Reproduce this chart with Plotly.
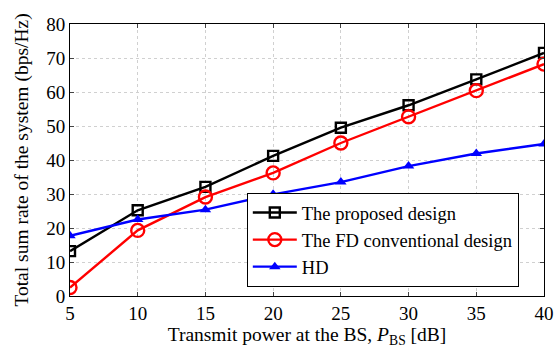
import plotly.graph_objects as go

x_power = [5, 10, 15, 20, 25, 30, 35, 40]
proposed = [13.2, 25.2, 32.1, 41.2, 49.5, 56.1, 63.7, 71.5]
fd_conv = [2.5, 19.3, 29.1, 36.2, 45.0, 52.7, 60.4, 68.2]
hd = [17.7, 22.5, 25.4, 29.9, 33.5, 38.2, 41.9, 44.7]

FONT = "Liberation Serif"

fig = go.Figure()
fig.add_trace(go.Scatter(x=x_power, y=proposed, mode="lines+markers", name="The proposed design",
                         line=dict(color="black", width=2.4),
                         marker=dict(symbol="square-open", size=10, color="black", line=dict(width=2.4))))
fig.add_trace(go.Scatter(x=x_power, y=fd_conv, mode="lines+markers", name="The FD conventional design",
                         line=dict(color="red", width=2.4),
                         marker=dict(symbol="circle-open", size=13, color="red", line=dict(width=2.4))))
fig.add_trace(go.Scatter(x=x_power, y=hd, mode="lines+markers", name="HD",
                         line=dict(color="blue", width=2.4),
                         marker=dict(symbol="triangle-up", size=10, color="blue")))

fig.update_layout(
    template="none",
    width=555, height=350,
    margin=dict(l=70, r=11, t=24, b=54, autoexpand=False),
    paper_bgcolor="white", plot_bgcolor="white",
    font=dict(family=FONT, size=19, color="black"),
    showlegend=True,
    legend=dict(x=0.373, y=0.033, xanchor="left", yanchor="bottom",
                bgcolor="white", bordercolor="black", borderwidth=1,
                font=dict(family=FONT, size=18.5), tracegroupgap=0,
                itemwidth=44),
)
fig.update_xaxes(range=[5, 40], tickvals=x_power, ticks="inside", ticklen=4,
                 showline=True, linecolor="black", linewidth=1, mirror="allticks",
                 showgrid=True, gridcolor="#d0d0d0", griddash="dot", gridwidth=1,
                 zeroline=False, tickfont=dict(size=19), automargin=False,
                 title=dict(text="Transmit power at the BS, <i>P</i><sub>BS</sub> [dB]", font=dict(size=19.5), standoff=4))
fig.update_yaxes(range=[0, 80], dtick=10, ticks="inside", ticklen=4,
                 showline=True, linecolor="black", linewidth=1, mirror="allticks",
                 showgrid=True, gridcolor="#d0d0d0", griddash="dot", gridwidth=1,
                 zeroline=False, tickfont=dict(size=19), automargin=False,
                 title=dict(text="Total sum rate of the system (bps/Hz)", font=dict(size=19.5), standoff=12))

fig.write_html("out.html", config={"displayModeBar": False},
               post_script="document.body.style.margin='0';document.documentElement.style.overflow='hidden';")
